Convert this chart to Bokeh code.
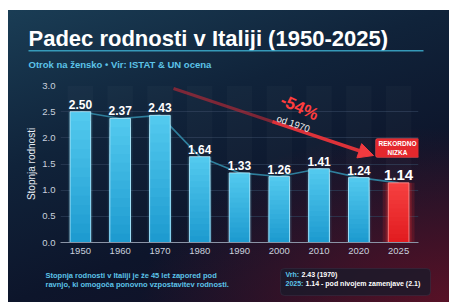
from bokeh.plotting import figure
from bokeh.layouts import column, row
from bokeh.models import (ColumnDataSource, FactorRange, Range1d, Label, BoxAnnotation,
                          Arrow, NormalHead, SingleIntervalTicker, NumeralTickFormatter)
from bokeh.core.properties import value
from bokeh.embed import file_html
from bokeh.resources import INLINE

# ---- data ----
years = ["1950", "1960", "1970", "1980", "1990", "2000", "2010", "2020", "2025"]
rates = [2.50, 2.37, 2.43, 1.64, 1.33, 1.26, 1.41, 1.24, 1.14]
y_max = 3.0
title_text = "Padec rodnosti v Italiji (1950-2025)"
subtitle_text = "Otrok na žensko • Vir: ISTAT & UN ocena"
note_lines = ["Stopnja rodnosti v Italiji je že 45 let zapored pod",
              "ravnjo, ki omogoča ponovno vzpostavitev rodnosti."]
peak_key, peak_text = "Vrh:", "2.43 (1970)"
last_key, last_text = "2025:", "1.14 - pod nivojem zamenjave (2.1)"
drop_text, drop_sub = "-54%", "od 1970"
badge_lines = ["REKORDNO", "NIZKA"]

FONT = "Liberation Sans"
W = 441
H_TOP, H_MAIN, H_BOT = 70, 182, 40

hist_years, hist_rates = years[:-1], rates[:-1]
last_year, last_rate = years[-1], rates[-1]


def blank(h):
    f = figure(width=W, height=h, x_range=Range1d(0, W), y_range=Range1d(0, h),
               x_axis_type=None, y_axis_type=None,
               output_backend="svg", toolbar_location=None,
               min_border=0, min_border_left=0, min_border_right=0,
               min_border_top=0, min_border_bottom=0)
    f.grid.visible = False
    f.background_fill_alpha = 0
    f.border_fill_alpha = 0
    f.outline_line_color = None
    return f


def lab(fig, x, y, text, size, color, bold=False, align="left", base="middle",
        angle=0.0, units="data"):
    fig.add_layout(Label(x=x, y=y, x_units=units, y_units=units, text=text,
                         text_font=FONT, text_font_size=size, text_color=color,
                         text_font_style="bold" if bold else "normal",
                         text_align=align, text_baseline=base, angle=angle))


def box(fig, l, r, b, t, units="data", **kw):
    fig.add_layout(BoxAnnotation(left=l, right=r, bottom=b, top=t,
                                 left_units=units, right_units=units,
                                 bottom_units=units, top_units=units, **kw))


# ---------------- header ----------------
top = blank(H_TOP)
lab(top, 20, 42, title_text, "22px", "#ffffff", bold=True, base="alphabetic")
box(top, 20, 415, 29, 30.5, fill_color="#3aa6c6", fill_alpha=0.9, line_color=None)
lab(top, 20, 16, subtitle_text, "9.5px", "#5cc3e8", bold=True, base="alphabetic")

# ---------------- main chart ----------------
p = figure(x_range=FactorRange(*years, range_padding=0), y_range=Range1d(0, y_max),
           width=W, height=H_MAIN, output_backend="svg", toolbar_location=None,
           min_border_left=52, min_border_right=31, min_border_top=5, min_border_bottom=20)
p.background_fill_alpha = 0
p.border_fill_alpha = 0
p.outline_line_color = None

p.xaxis.axis_line_color = "#8a94a6"
p.xaxis.major_tick_line_color = None
p.xaxis.minor_tick_line_color = None
p.xaxis.major_tick_out = 0
p.xaxis.major_tick_in = 0
p.xaxis.major_label_text_color = "#c9d1de"
p.xaxis.major_label_text_font = FONT
p.xaxis.major_label_text_font_size = "9.5px"
p.xaxis.major_label_standoff = 5

p.yaxis.ticker = SingleIntervalTicker(interval=0.5)
p.yaxis.formatter = NumeralTickFormatter(format="0.0")
p.yaxis.axis_line_color = None
p.yaxis.major_tick_line_color = None
p.yaxis.minor_tick_line_color = None
p.yaxis.major_tick_out = 0
p.yaxis.major_tick_in = 0
p.yaxis.minor_tick_out = 0
p.yaxis.major_label_text_color = "#c9d1de"
p.yaxis.major_label_text_font = FONT
p.yaxis.major_label_text_font_size = "9.5px"
p.yaxis.major_label_standoff = 5
p.yaxis.axis_label = "Stopnja rodnosti"
p.yaxis.axis_label_text_color = "#e8edf4"
p.yaxis.axis_label_text_font = FONT
p.yaxis.axis_label_text_font_size = "10px"
p.yaxis.axis_label_text_font_style = "normal"
p.yaxis.axis_label_standoff = 2

p.xgrid.grid_line_color = None
p.ygrid.grid_line_color = "#2e3f58"
p.ygrid.grid_line_alpha = 0.7

# background tracks
p.vbar(x=years, top=[y_max] * len(years), width=0.64, fill_color="#ffffff",
       fill_alpha=0.025, line_color=None)

# connecting line
p.line(x=years, y=rates, line_color="#2f7f9c", line_width=1.6)

# glows
p.vbar(x=hist_years, top=hist_rates, width=0.62, fill_color="#3ec0ea", fill_alpha=0.10, line_color=None)
p.vbar(x=[last_year], top=[last_rate], width=0.80, fill_color="#ff2a2a", fill_alpha=0.16, line_color=None)
p.vbar(x=[last_year], top=[last_rate], width=0.66, fill_color="#ff2a2a", fill_alpha=0.2, line_color=None)


def lerp(c1, c2, t):
    a = [int(c1[i:i + 2], 16) for i in (1, 3, 5)]
    b = [int(c2[i:i + 2], 16) for i in (1, 3, 5)]
    return "#" + "".join(f"{int(round(a[k] + (b[k] - a[k]) * t)):02x}" for k in range(3))


N = 14
for i in range(N):
    frac = 1 - i / N
    t = i / (N - 1)
    p.vbar(x=hist_years, top=[r * frac for r in hist_rates], width=0.52,
           fill_color=lerp("#52c9ee", "#1e9bd0", t), line_color=None)
    p.vbar(x=[last_year], top=[last_rate * frac], width=0.52,
           fill_color=lerp("#f54040", "#e21c20", t), line_color=None)

p.vbar(x=hist_years, top=hist_rates, width=0.52, fill_alpha=0,
       line_color="#c4f0ff", line_alpha=0.75, line_width=1)
p.vbar(x=[last_year], top=[last_rate], width=0.52, fill_alpha=0,
       line_color="#ff9a9a", line_alpha=0.8, line_width=1)

src = ColumnDataSource(dict(x=hist_years, y=hist_rates, t=[f"{r:.2f}" for r in hist_rates]))
p.text(x="x", y="y", text="t", source=src, text_align="center", text_baseline="bottom",
       y_offset=-3, text_color="#ffffff", text_font=value(FONT), text_font_style="bold",
       text_font_size="12px")
p.text(x=[last_year], y=[last_rate], text=[f"{last_rate:.2f}"], text_align="center",
       text_baseline="bottom", y_offset=-3, text_color="#ffffff", text_font=value(FONT),
       text_font_style="bold", text_font_size="15px")

# red arrow (faded tail + solid head) and annotations (screen units relative to frame)
p.add_layout(Arrow(x_start=113, y_start=154, x_end=213, y_end=120.5,
                   start_units="screen", end_units="screen",
                   line_color="#c42a36", line_width=3, line_alpha=0.6, end=None))
p.add_layout(Arrow(x_start=212, y_start=120.8, x_end=313, y_end=87,
                   start_units="screen", end_units="screen",
                   line_color="#e8343a", line_width=3.5, line_alpha=0.95,
                   end=NormalHead(size=15, fill_color="#f03a3f", line_color="#f03a3f")))
lab(p, 239, 135, drop_text, "17px", "#ff3d3d", bold=True, align="center", angle=-0.42, units="screen")
lab(p, 233, 119, drop_sub, "9.5px", "#f2f2f2", align="center", angle=-0.33, units="screen")

box(p, 315, 359, 85, 104, units="screen", fill_color="#e4282d", fill_alpha=1,
    line_color="#ff7070", line_width=1, border_radius=2)
lab(p, 337, 98.7, badge_lines[0], "6.5px", "#ffffff", bold=True, align="center", units="screen")
lab(p, 337, 90.3, badge_lines[1], "6.5px", "#ffffff", bold=True, align="center", units="screen")

# ---------------- footer ----------------
bot = blank(H_BOT)
lab(bot, 37, 27, note_lines[0], "7.5px", "#5cc3e8", bold=True)
lab(bot, 37, 18, note_lines[1], "7.5px", "#5cc3e8", bold=True)
box(bot, 272, 422, 7, 34, fill_color="#1a1a2b", fill_alpha=0.8, line_color="#3e4558",
    line_width=1, border_radius=4)
lab(bot, 277, 28, peak_key, "7px", "#5cc3e8", bold=True)
lab(bot, 293, 28, peak_text, "7px", "#ffffff", bold=True)
lab(bot, 277, 19, last_key, "7px", "#5cc3e8", bold=True)
lab(bot, 297, 19, last_text, "7px", "#ffffff", bold=True)

layout = column(row(top), row(p), row(bot), spacing=0,
                styles={"margin-left": "8px", "margin-top": "10px",
                        "background-image":
                        "radial-gradient(ellipse 70% 60% at 100% 100%, rgba(110,18,38,0.75) 0%, rgba(110,18,38,0) 100%),"
                        "linear-gradient(160deg, #1a3d55 0%, #10233a 35%, #0d152b 65%, #150f26 100%)"})

open("out.html", "w").write(file_html(layout, INLINE))
